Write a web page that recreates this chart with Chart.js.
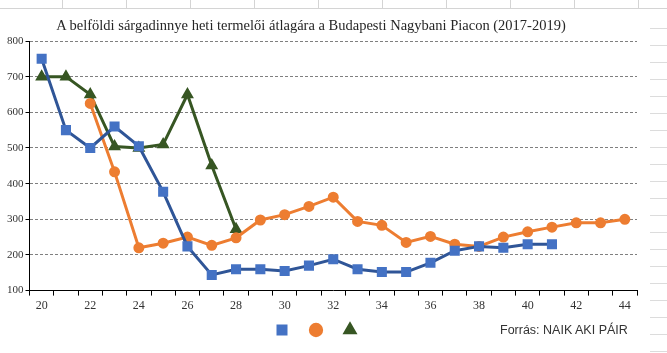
<!DOCTYPE html>
<html>
<head>
<meta charset="utf-8">
<script src="https://cdn.jsdelivr.net/npm/chart.js@4.4.1/dist/chart.umd.min.js"></script>
<style>
  html, body { margin: 0; padding: 0; background: #fff; }
  .wrap { position: relative; width: 667px; height: 353px; overflow: hidden; }
  /* faint spreadsheet cell lines behind the chart */
  .cells-top { position: absolute; left: 0; top: 0; width: 667px; height: 8px;
    border-bottom: 1px solid #d4d4d4;
    background: repeating-linear-gradient(to right, transparent 0, transparent 62px, #d4d4d4 62px, #d4d4d4 63px, transparent 63px, transparent 64px); }
  .cells-right { position: absolute; left: 650px; top: 12px; width: 17px; height: 341px;
    background: repeating-linear-gradient(to bottom, transparent 0, transparent 16px, #dcdcdc 16px, #dcdcdc 17px); }
  .title { position: absolute; left: 0; width: 622px; top: 17px; text-align: center;
    font-family: "Liberation Serif", serif; font-size: 14.5px; color: #262626; }
  .source { position: absolute; left: 500px; top: 323px;
    font-family: "Liberation Sans", sans-serif; font-size: 12.5px; color: #333; }
  canvas { position: absolute; left: 0; top: 0; }
</style>
</head>
<body>
<div class="wrap">
  <div class="cells-top"></div>
  <div class="cells-right"></div>
  <canvas id="myChart" width="667" height="353"></canvas>
  <div class="title">A belföldi sárgadinnye heti termelői átlagára a Budapesti Nagybani Piacon (2017-2019)</div>
  <div class="source">Forrás: NAIK AKI PÁIR</div>
</div>
<script>
// weeks 20..44
const weeks = ['20','21','22','23','24','25','26','27','28','29','30','31','32',
               '33','34','35','36','37','38','39','40','41','42','43','44'];

// Ft/kg (null = no data that week)
const series2017 = [750, 550, 500, 560, 505, 377, 224, 144, 160, 160, 155, 170, 188,
                    160, 152, 152, 178, 212, 224, 220, 230, 230, null, null, null];
const series2018 = [null, null, 625, 433, 220, 233, 250, 227, 248, 298, 313, 336, 362,
                    294, 283, 235, 252, 230, 224, 250, 265, 278, 290, 290, 300];
const series2019 = [700, 700, 650, 504, 500, 510, 650, 451, 272, null, null, null, null,
                    null, null, null, null, null, null, null, null, null, null, null, null];

const yMin = 100;
const yMax = 800;
const yStep = 100;

const serif = "'Liberation Serif', 'Times New Roman', serif";

const ctx = document.getElementById('myChart').getContext('2d');
new Chart(ctx, {
  type: 'line',
  data: {
    labels: weeks,
    datasets: [
      {
        label: '',
        data: series2017,
        borderColor: '#2f5597',
        backgroundColor: '#4472c4',
        pointBackgroundColor: '#4472c4',
        pointBorderColor: '#4472c4',
        pointStyle: 'rect',
        pointRadius: 5,
        borderWidth: 3,
        tension: 0
      },
      {
        label: '',
        data: series2018,
        borderColor: '#ed7d31',
        backgroundColor: '#ed7d31',
        pointBackgroundColor: '#ed7d31',
        pointBorderColor: '#ed7d31',
        pointStyle: 'circle',
        pointRadius: 4,
        borderWidth: 3,
        tension: 0
      },
      {
        label: '',
        data: series2019,
        borderColor: '#375623',
        backgroundColor: '#375623',
        pointBackgroundColor: '#375623',
        pointBorderColor: '#375623',
        pointStyle: 'triangle',
        pointRadius: 4.5,
        borderWidth: 3,
        tension: 0
      }
    ]
  },
  options: {
    responsive: false,
    animation: false,
    spanGaps: false,
    layout: {
      padding: { left: 5, right: 30, top: 41, bottom: 3 }
    },
    scales: {
      x: {
        type: 'category',
        offset: true,
        grid: {
          offset: true,
          drawOnChartArea: false,
          drawTicks: true,
          tickLength: 5,
          tickColor: '#000',
          tickWidth: 1
        },
        border: { color: '#000', width: 1 },
        ticks: {
          autoSkip: false,
          maxRotation: 0,
          padding: 3,
          color: '#333',
          font: { family: serif, size: 12 },
          callback: function (value, index) {
            return index % 2 === 0 ? this.getLabelForValue(value) : '';
          }
        }
      },
      y: {
        min: yMin,
        max: yMax,
        grid: {
          color: (c) => (c.tick && c.tick.value === yMin ? 'rgba(0,0,0,0)' : '#7f7f7f'),
          lineWidth: 1,
          drawTicks: true,
          tickLength: 4,
          tickColor: '#000',
          tickBorderDash: []
        },
        border: { color: '#000', width: 1, dash: [3, 2] },
        ticks: {
          stepSize: yStep,
          padding: 2,
          color: '#333',
          font: { family: serif, size: 11 }
        }
      }
    },
    plugins: {
      title: { display: false },
      tooltip: { enabled: false },
      legend: {
        display: true,
        position: 'bottom',
        labels: {
          usePointStyle: true,
          boxWidth: 20,
          boxHeight: 8,
          padding: 4,
          font: { size: 20 }
        }
      }
    }
  }
});
</script>
</body>
</html>
